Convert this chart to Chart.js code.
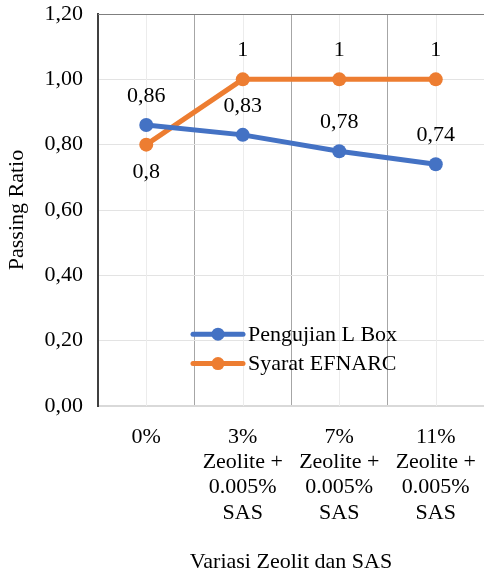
<!DOCTYPE html>
<html>
<head>
<meta charset="utf-8">
<script src="https://cdn.jsdelivr.net/npm/chart.js@4/dist/chart.umd.min.js"></script>
<style>
  html, body { margin: 0; padding: 0; background: #ffffff; }
  #wrap { width: 484px; height: 577px; position: relative; }
</style>
</head>
<body>
<div id="wrap"><canvas id="c" width="484" height="577"></canvas></div>
<script>
// Categories (multi-line tick labels)
const categories = [
  ['0%'],
  ['3%', 'Zeolite +', '0.005%', 'SAS'],
  ['7%', 'Zeolite +', '0.005%', 'SAS'],
  ['11%', 'Zeolite +', '0.005%', 'SAS']
];
// Series values
const pengujianLBox = [0.86, 0.83, 0.78, 0.74];
const syaratEFNARC = [0.8, 1, 1, 1];
// Y axis ticks
const yMin = 0, yMax = 1.2, yStep = 0.2;

const FONT = 'Liberation Serif';
const BLUE = '#4472C4';
const ORANGE = '#ED7D31';
const FS = 22;

Chart.defaults.font.family = FONT;
Chart.defaults.font.size = FS;
Chart.defaults.color = '#000000';

function fmtComma(v, digits) {
  const s = digits === undefined ? String(+v.toFixed(4)) : v.toFixed(digits);
  return s.replace('.', ',');
}

// Light grid lines at the category centres and the top border of the plot
const centreLines = {
  id: 'centreLines',
  beforeDatasetsDraw(chart) {
    const { ctx, chartArea, scales } = chart;
    ctx.save();
    ctx.strokeStyle = '#ececec';
    ctx.lineWidth = 1;
    categories.forEach((_, i) => {
      const x = Math.round(scales.x.getPixelForValue(i)) + 0.5;
      ctx.beginPath();
      ctx.moveTo(x, chartArea.top);
      ctx.lineTo(x, chartArea.bottom);
      ctx.stroke();
    });
    ctx.strokeStyle = '#7f7f7f';
    ctx.beginPath();
    ctx.moveTo(chartArea.left, chartArea.top + 0.5);
    ctx.lineTo(chartArea.right, chartArea.top + 0.5);
    ctx.stroke();
    ctx.restore();
  }
};

// Value labels next to each point
const valueLabels = {
  id: 'valueLabels',
  afterDatasetsDraw(chart) {
    const { ctx } = chart;
    ctx.save();
    ctx.font = FS + 'px "' + FONT + '"';
    ctx.fillStyle = '#000000';
    ctx.textAlign = 'center';
    ctx.textBaseline = 'middle';
    chart.data.datasets.forEach((ds, di) => {
      const meta = chart.getDatasetMeta(di);
      meta.data.forEach((pt, i) => {
        const pos = ds.labelPos[i];
        const dy = pos === 'below' ? 28 : -29;
        ctx.fillText(fmtComma(ds.data[i]), pt.x, pt.y + dy);
      });
    });
    ctx.restore();
  }
};

// Legend drawn inside the plot area
const innerLegend = {
  id: 'innerLegend',
  afterDatasetsDraw(chart) {
    const { ctx, chartArea, scales } = chart;
    ctx.save();
    ctx.font = FS + 'px "' + FONT + '"';
    ctx.textBaseline = 'middle';
    ctx.textAlign = 'left';
    const x0 = chartArea.left + 95;
    const rows = [scales.y.getPixelForValue(0.22), scales.y.getPixelForValue(0.13)];
    chart.data.datasets.forEach((ds, di) => {
      const y = rows[di];
      ctx.strokeStyle = ds.borderColor;
      ctx.lineWidth = 5;
      ctx.lineCap = 'round';
      ctx.beginPath();
      ctx.moveTo(x0, y);
      ctx.lineTo(x0 + 50, y);
      ctx.stroke();
      ctx.fillStyle = ds.borderColor;
      ctx.beginPath();
      ctx.arc(x0 + 25, y, 6.5, 0, Math.PI * 2);
      ctx.fill();
      ctx.fillStyle = '#000000';
      ctx.fillText(ds.label, x0 + 55, y + 1);
    });
    ctx.restore();
  }
};

new Chart(document.getElementById('c'), {
  type: 'line',
  data: {
    labels: categories,
    datasets: [
      {
        label: 'Pengujian L Box',
        data: pengujianLBox,
        borderColor: BLUE,
        backgroundColor: BLUE,
        borderWidth: 5,
        pointRadius: 7,
        pointHoverRadius: 7,
        pointBorderWidth: 0,
        labelPos: ['above', 'above', 'above', 'above']
      },
      {
        label: 'Syarat EFNARC',
        data: syaratEFNARC,
        borderColor: ORANGE,
        backgroundColor: ORANGE,
        borderWidth: 5,
        pointRadius: 7,
        pointHoverRadius: 7,
        pointBorderWidth: 0,
        labelPos: ['below', 'above', 'above', 'above']
      }
    ]
  },
  options: {
    responsive: false,
    animation: false,
    layout: { autoPadding: false, padding: { top: 14, right: 0, left: 0, bottom: 0 } },
    plugins: {
      legend: { display: false },
      tooltip: { enabled: false }
    },
    scales: {
      x: {
        offset: true,
        grid: {
          offset: true,
          color: '#a6a6a6',
          lineWidth: 1,
          drawTicks: false
        },
        border: { color: '#d9d9d9', width: 2 },
        ticks: {
          font: { family: FONT, size: FS, lineHeight: 1.14 },
          padding: 19,
          maxRotation: 0,
          autoSkip: false
        },
        title: {
          display: true,
          text: 'Variasi Zeolit dan SAS',
          font: { family: FONT, size: FS },
          padding: { top: 8, bottom: 2 }
        },
        afterFit(scale) {
          scale.height = 171;
          scale.paddingLeft = 0;
          scale.paddingRight = 0;
        }
      },
      y: {
        min: yMin,
        max: yMax,
        grid: { color: '#e3e3e3', drawTicks: false },
        border: { color: '#404040', width: 2 },
        ticks: {
          stepSize: yStep,
          font: { family: FONT, size: FS },
          padding: 15,
          callback: v => fmtComma(v, 2)
        },
        title: {
          display: true,
          text: 'Passing Ratio',
          font: { family: FONT, size: FS },
          padding: { top: 4, bottom: 6 }
        },
        afterFit(scale) {
          scale.width = 98;
          scale.paddingTop = 0;
          scale.paddingBottom = 0;
        }
      }
    }
  },
  plugins: [centreLines, valueLabels, innerLegend]
});
</script>
</body>
</html>
